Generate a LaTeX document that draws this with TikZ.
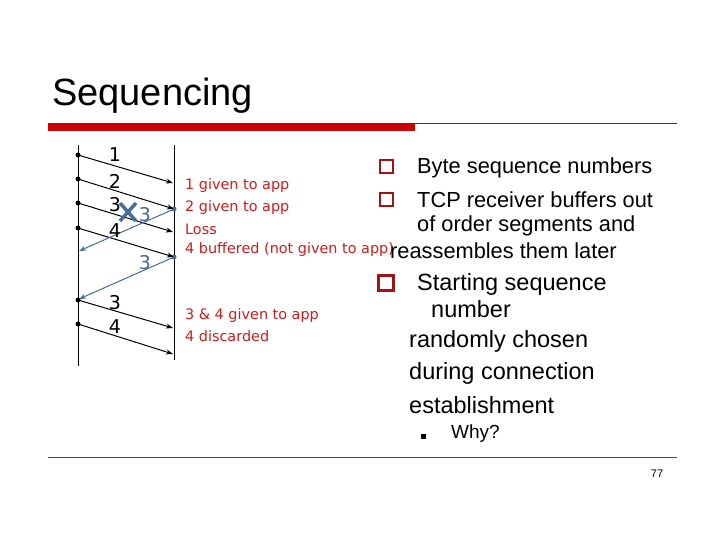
\documentclass[tikz,border=0pt]{standalone}
\usepackage{fontspec}
\setmainfont{Liberation Sans}
\newfontfamily\verd{DejaVu Sans}
\usetikzlibrary{arrows.meta}
\definecolor{sred}{RGB}{204,0,0}
\definecolor{tred}{RGB}{200,30,30}
\definecolor{bred}{RGB}{160,20,20}
\definecolor{sblue}{RGB}{70,110,150}
\begin{document}
\begin{tikzpicture}[x=1pt,y=-1pt,
  msg/.style={-{Stealth[length=7pt,width=5pt]},line width=1pt},
  ack/.style={-{Stealth[length=7pt,width=5pt]},line width=1pt,sblue},
  num/.style={font=\verd\fontsize{19}{19}\selectfont,inner sep=0},
  rtxt/.style={font=\verd\fontsize{14.4}{14.4}\selectfont,text=tred,anchor=west,inner sep=0},
  btxt/.style={font=\fontsize{21.8}{21.8}\selectfont,anchor=west,inner sep=0},
  big/.style={font=\fontsize{23.5}{23.5}\selectfont},
  box/.style={draw=bred,line width=2pt,minimum size=13pt,inner sep=0},
  dot/.style={circle,fill,inner sep=0,minimum size=5pt}]
\useasboundingbox (0,0) rectangle (720,540);
\fill[white] (0,0) rectangle (720,540);
\node[font=\fontsize{38}{38}\selectfont,anchor=west,inner sep=0] (title) at (52,96) {Sequencing};
\fill[sred] (48,123) rectangle (415,131);
\draw[sred,line width=0.6pt] (415,123.5) -- (677,123.5);
% timelines
\coordinate (lt) at (78,145); \coordinate (lb) at (78,366);
\coordinate (rt) at (174,145); \coordinate (rb) at (174,360);
\draw[line width=1pt] (lt) -- (lb);
\draw[line width=1pt] (rt) -- (rb);
% send points
\foreach \n/\y in {s1/155,s2/179,s3/203,s4/228,s5/300,s6/324}{\node[dot] (\n) at (78,\y) {};}
\foreach \n/\y in {r1/183,r3/232,r5/328,r6/354}{\coordinate (\n) at (173,\y);}
\node[dot,sblue] (r2) at (174,209) {};
\node[dot,sblue] (r4) at (174,257) {};
\coordinate (a1) at (79,251); \coordinate (a2) at (79,299);
\draw[msg] (s1.center) -- (r1);
\draw[msg] (s2.center) -- (r2.center);
\draw[msg] (s3.center) -- (r3);
\draw[msg] (s4.center) -- (r4.center);
\draw[msg] (s5.center) -- (r5);
\draw[msg] (s6.center) -- (r6);
\draw[ack] (r2.center) -- (a1);
\draw[ack] (r4.center) -- (a2);
% labels
\node[num] (n1) at (115,155) {1};
\node[num] (n2) at (115,181) {2};
\node[num] (n3) at (115,205) {3};
\node[num] (n4) at (115,231) {4};
\node[num,text=sblue] (b1) at (145,215) {3};
\node[num,text=sblue] (b2) at (145,263) {3};
\node[num] (n5) at (115,303) {3};
\node[num] (n6) at (115,327) {4};
\draw[sblue,line width=3.5pt] (120,203) -- (136,221) (120,221) -- (136,203);
% red notes
\node[rtxt] (t1) at (185,186) {1 given to app};
\node[rtxt] (t2) at (185,208) {2 given to app};
\node[rtxt] (t3) at (185,229) {Loss};
\node[rtxt] (t4) at (185,250) {4 buffered (not given to app)};
\node[rtxt] (t5) at (185,316) {3 \& 4 given to app};
\node[rtxt] (t6) at (185,336) {4 discarded};
% bullets
\node[box] (k1) at (386,167) {};
\node[box] (k2) at (386,200) {};
\node[box,minimum size=15pt,line width=2.4pt] (k3) at (386,283) {};
\node[btxt] (p1) at (417,168) {Byte sequence numbers};
\node[btxt] (p2) at (417,200) {TCP receiver buffers out};
\node[btxt] (p3) at (417,226) {of order segments and};
\node[btxt] (p4) at (390,251) {reassembles them later};
\node[btxt,big] (p5) at (417,284) {Starting sequence};
\node[btxt,big] (p6) at (431,309) {number};
\node[btxt,big] (p7) at (409,341) {randomly chosen};
\node[btxt,big] (p8) at (409,373) {during connection};
\node[btxt,big] (p9) at (409,405) {establishment};
\node[fill,inner sep=0,minimum size=5pt] (sq) at (423,436) {};
\node[btxt,font=\fontsize{19}{19}\selectfont] (why) at (451,434) {Why?};
\draw[line width=0.6pt,black!70] (48,457) -- (677,457);
\node[font=\fontsize{11}{11}\selectfont,inner sep=0] (pg) at (657,474) {77};
\end{tikzpicture}
\end{document}
